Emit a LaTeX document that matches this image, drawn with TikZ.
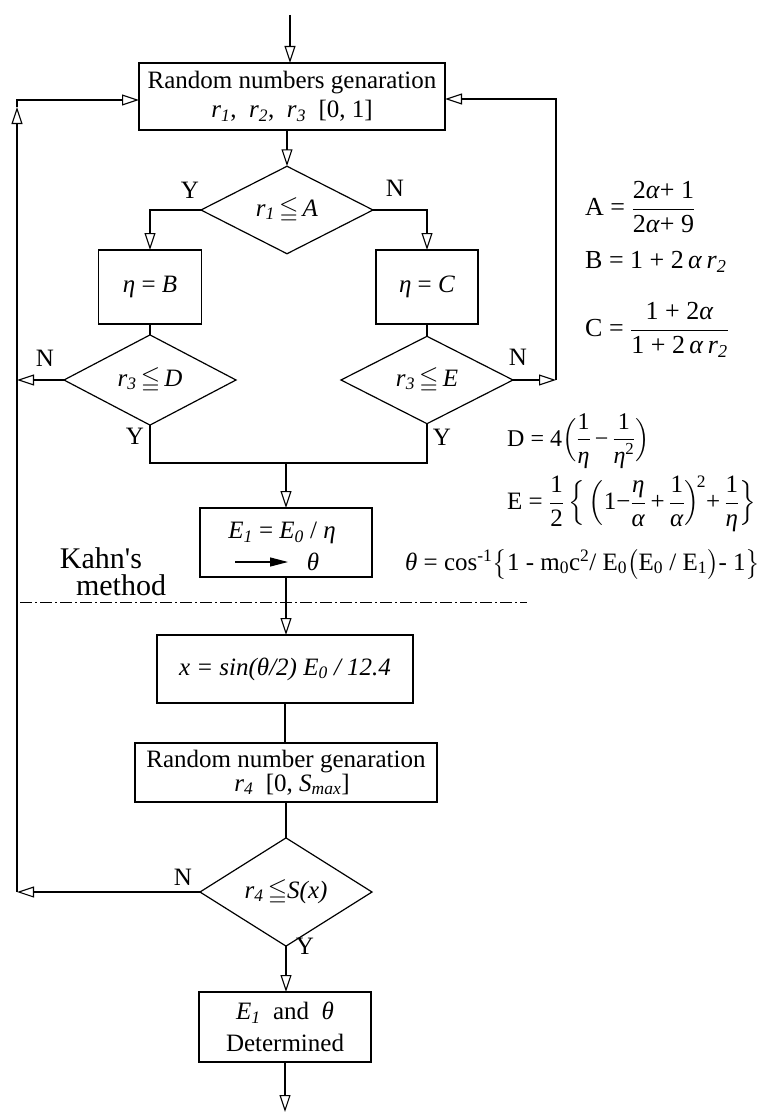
\documentclass[tikz,border=0pt]{standalone}
\usepackage{amsmath,amssymb}
\usepackage{fontspec}
\setmainfont{Liberation Serif}
\usetikzlibrary{arrows.meta,shapes.geometric}
\newcommand{\fs}{\fontsize{25}{29}\selectfont}
\newcommand{\fk}{\fontsize{30}{32}\selectfont}
\newcommand{\ff}{\fontsize{26}{30}\selectfont}
\newcommand{\fg}{\fontsize{24}{28}\selectfont}
\newcommand{\fh}{\fontsize{25}{28}\selectfont}
\newcommand{\iv}[1]{\textit{#1}}
\newcommand{\isub}[2]{\textit{#1}\textsubscript{\textit{#2}}}
\begin{document}
\begin{tikzpicture}[x=1pt,y=-1pt,
  ln/.style={line width=1.2pt},
  arr/.style={line width=1.2pt, -{Triangle[open, length=17pt, width=11pt, line width=1.1pt]}},
  box/.style={draw, line width=1.2pt, inner sep=0pt, outer sep=0pt, align=center, font=\fs},
  dia/.style={draw, diamond, line width=1.2pt, inner sep=0pt, outer sep=0pt, minimum width=172pt, minimum height=67pt, font=\fs},
  lbl/.style={font=\fs, inner sep=0pt},
  fml/.style={font=\ff, inner sep=0pt, anchor=west},
  fmls/.style={font=\fg, inner sep=0pt, anchor=west},
  fmlm/.style={font=\fh, inner sep=0pt, anchor=west},
  dashdot/.style={line width=1pt, dash pattern=on 12pt off 3pt on 2pt off 3pt}]
\useasboundingbox (0,0) rectangle (771,1116);

% boxes and decisions
\node[box, minimum width=306pt, minimum height=67pt] (b1) at (292,96.5)
  {Random numbers genaration\\ \isub{r}{1},\ \ \isub{r}{2},\ \ \isub{r}{3}\ \ [0, 1]};
\node[dia] (d1) at (287,210) {\isub{r}{1}\,$\leqq$\,\iv{A}};
\node[box, minimum width=103pt, minimum height=74pt] (bB) at (150,287) {\iv{η} = \iv{B}};
\node[box, minimum width=102pt, minimum height=74pt] (bC) at (427,287) {\iv{η} = \iv{C}};
\node[dia] (dD) at (150,380) {\isub{r}{3}\,$\leqq$\,\iv{D}};
\node[dia] (dE) at (427,380) {\isub{r}{3}\,$\leqq$\,\iv{E}};
\node[box, minimum width=172pt, minimum height=69pt] (bE1) at (286,542.5) {};
\node[lbl] (t1) at (282,533) {\isub{E}{1} = \isub{E}{0} / \iv{η}};
\node[lbl] (t2) at (313,562) {\iv{θ}};
\coordinate (aS) at (235,562);
\coordinate (aE) at (288,562);
\draw[line width=1.2pt, -{Triangle[length=18pt, width=9pt]}] (aS) -- (aE);
\node[box, minimum width=256pt, minimum height=68pt] (bx) at (285,669)
  {\iv{x = sin(θ/2) E}\textsubscript{\iv{0}}\iv{ / 12.4}};
\node[box, minimum width=302pt, minimum height=59pt] (br4) at (286,772.5)
  {Random number genaration\\[-5pt] \hspace*{12pt}\isub{r}{4}\ \ [0, \iv{S}\textsubscript{\iv{max}}]};
\node[dia] (d4) at (286,892) {\isub{r}{4}\,$\leqq$\iv{S(x)}};
\node[box, minimum width=172pt, minimum height=70pt] (bF) at (285,1027)
  {\isub{E}{1}\ \ and\ \ \iv{θ}\\[3pt] Determined};

% labels
\node[lbl] (y1) at (190,190) {Y};
\node[lbl] (n1) at (395,188) {N};
\node[lbl] (nD) at (45,358) {N};
\node[lbl] (nE) at (518,357) {N};
\node[lbl] (yD) at (135,436) {Y};
\node[lbl] (yE) at (442,437) {Y};
\node[lbl] (n4) at (183,877) {N};
\node[lbl] (y4) at (305,946) {Y};
\node[font=\fk, inner sep=0pt] (k1) at (101,558) {Kahn\textquotesingle s};
\node[font=\fk, inner sep=0pt] (k2) at (121,585) {method};

% formulas
\node[fml] (fA) at (585,207) {A = $\dfrac{\text{2\iv{α}+ 1}}{\text{2\iv{α}+ 9}}$};
\node[fml] (fB) at (585,262) {B = 1 + 2\,\iv{α}\,\isub{r}{2}};
\node[fml] (fC) at (585,330) {C = $\dfrac{\text{1 + 2\iv{α}}}{\text{1 + 2\,\iv{α}\,\isub{r}{2}}}$};
\node[fmls] (fD) at (507,441) {D = 4$\Bigl(\dfrac{\text{1}}{\text{\iv{η}}}\text{\,−\,}\dfrac{\text{1}}{\text{\iv{η}\textsuperscript{2}}}\Bigr)$};
\node[fmlm] (fE) at (507,504) {E = $\dfrac{\text{1}}{\text{2}}\,\Bigl\{\,\Bigl(\text{1−}\dfrac{\text{\iv{η}}}{\text{\iv{α}}}\text{\,+\,}\dfrac{\text{1}}{\text{\iv{α}}}\Bigr)^{\!\text{2}}\text{+\,}\dfrac{\text{1}}{\text{\iv{η}}}\Bigr\}$};
\node[fmlm] (fT) at (405,564) {\iv{θ} = cos\textsuperscript{-1}$\bigl\{$1 - m\textsubscript{0}c\textsuperscript{2}/ E\textsubscript{0}$\bigl($E\textsubscript{0} / E\textsubscript{1}$\bigr)$- 1$\bigr\}$};

% dash-dot separator
\coordinate (dl) at (20,602);
\coordinate (dr) at (527,602);
\draw[dashdot] (dl) -- (dr);

% main connectors
\coordinate (top) at (290,15);
\draw[arr] (top) -- (top |- b1.north);
\draw[arr] (b1.south -| d1.north) -- (d1.north);
\draw[arr] (d1.west) -| (bB.north);
\draw[arr] (d1.east) -| (bC.north);
\draw[ln] (bB.south) -- (dD.north);
\draw[ln] (bC.south) -- (dE.north);
\coordinate (mL) at (150,463);
\coordinate (mR) at (427,463);
\draw[ln] (dD.south) -- (mL) -- (mR) -- (dE.south);
\draw[arr] (mL -| bE1.north) -- (bE1.north);
\draw[arr] (bE1.south) -- (bE1.south |- bx.north);
\draw[ln] (bx.south) -- (bx.south |- br4.north);
\draw[ln] (br4.south) -- (br4.south |- d4.north);
\draw[arr] (d4.south) -- (d4.south |- bF.north);
\coordinate (bot) at (285,1112);
\draw[arr] (bF.south) -- (bF.south |- bot);

% left loop
\coordinate (LT) at (17,100);
\coordinate (LU) at (17,107);
\draw[arr] (d4.west) -- (d4.west -| LT);
\draw[arr] (dD.west) -- (dD.west -| LT);
\draw[arr] (d4.west -| LT) -- (LU);
\draw[arr] (LU) -- (LT) -- (LT -| b1.west);

% right loop
\coordinate (RT) at (556,99);
\draw[arr] (dE.east) -- (dE.east -| RT);
\draw[arr] (dE.east -| RT) -- (RT) -- (RT -| b1.east);
\end{tikzpicture}
\end{document}
